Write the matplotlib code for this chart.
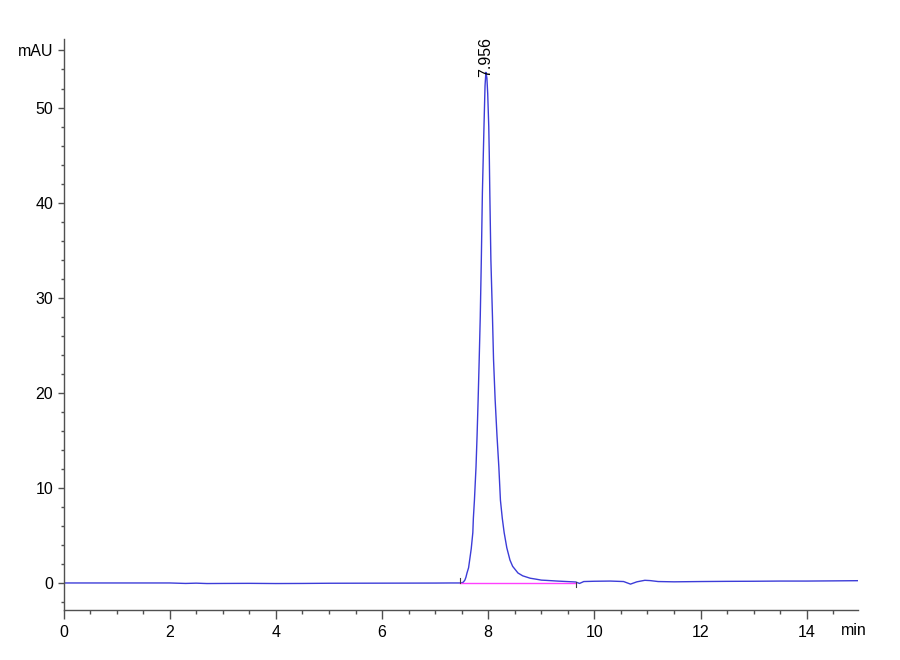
import matplotlib
matplotlib.use("Agg")
import matplotlib.pyplot as plt

# chromatogram trace (time in min, signal in mAU)
time_min = [0.0, 1.0, 2.0, 2.3, 2.5, 2.7, 3.0, 3.5, 4.0, 4.5, 5.0, 6.0, 7.0, 7.3,
            7.47, 7.50, 7.53, 7.56, 7.58, 7.60, 7.63, 7.65, 7.68, 7.71, 7.72, 7.74,
            7.77, 7.79, 7.81, 7.83, 7.85, 7.87, 7.89, 7.92, 7.94, 7.956, 7.975,
            7.99, 8.01, 8.02, 8.03, 8.05, 8.08, 8.10, 8.13, 8.165, 8.20, 8.23, 8.265,
            8.30, 8.35, 8.41, 8.46, 8.56, 8.65, 8.79, 8.9, 9.0, 9.1, 9.3, 9.48,
            9.65, 9.72, 9.80, 10.0, 10.3, 10.55, 10.68, 10.8, 10.95, 11.05, 11.2,
            11.5, 12.0, 12.5, 13.0, 13.5, 14.0, 14.5, 14.96]
signal_mau = [0.0, 0.0, 0.0, -0.05, -0.02, -0.06, -0.05, -0.04, -0.06, -0.05, -0.03,
              -0.02, -0.01, 0.0,
              0.0, 0.02, 0.08, 0.3, 0.6, 1.05, 1.6, 2.4, 3.6, 5.3, 6.8, 8.7,
              12.2, 15.5, 19.3, 23.5, 28.0, 34.0, 41.0, 48.0, 52.3, 53.7, 53.1,
              51.5, 48.0, 45.0, 41.0, 34.0, 28.0, 23.5, 19.3, 15.5, 12.2, 8.7, 6.8,
              5.3, 3.7, 2.4, 1.75, 1.05, 0.75, 0.5, 0.4, 0.3, 0.27, 0.2, 0.15,
              0.1, -0.05, 0.15, 0.18, 0.2, 0.15, -0.12, 0.12, 0.28, 0.25, 0.15,
              0.12, 0.15, 0.17, 0.18, 0.2, 0.2, 0.22, 0.24]

peak_rt = 7.956
peak_top = 53.7
base_start, base_end = 7.47, 9.65

x_ticks = [0, 2, 4, 6, 8, 10, 12, 14]
y_ticks = [0, 10, 20, 30, 40, 50]

plt.rcParams["font.family"] = ["Liberation Sans", "DejaVu Sans"]

fig = plt.figure(figsize=(9, 6.6), dpi=100)
ax = fig.add_axes([0.0706, 0.0758, 0.8824, 0.865])

ax.plot(time_min, signal_mau, color="#3c3cd8", lw=1.0)
# integration baseline + start/stop markers
ax.plot([base_start, base_end], [0, 0], color="#ff40ff", lw=1.0)
ax.plot([base_start, base_start], [0.03, 0.56], color="#404040", lw=0.8)
ax.plot([base_end, base_end], [0.14, -0.39], color="#404040", lw=0.8)

ax.text(peak_rt, peak_top - 0.5, f"{peak_rt:.3f}", rotation=90, ha="center",
        va="bottom", fontsize=11.5, color="black")

ax.set_xlim(0, 14.96)
ax.set_ylim(-2.84, 57.2)
ax.set_xticks(x_ticks)
ax.set_xticklabels([str(v) for v in x_ticks])
ax.set_xticks([v * 0.5 for v in range(30)], minor=True)
ax.set_yticks(y_ticks + [56])
ax.set_yticklabels([str(v) for v in y_ticks] + ["mAU"])
ax.set_yticks([v for v in range(-2, 57, 2)], minor=True)

for s in ["top", "right"]:
    ax.spines[s].set_visible(False)
for s in ["left", "bottom"]:
    ax.spines[s].set_color("#505050")
    ax.spines[s].set_linewidth(1.0)

ax.tick_params(axis="x", which="major", length=6.5, width=1, color="#505050",
               labelsize=11.5, pad=4)
ax.tick_params(axis="x", which="minor", length=3, width=1, color="#505050")
ax.tick_params(axis="y", which="major", length=4.5, width=1, color="#505050",
               labelsize=11.5, pad=3)
ax.tick_params(axis="y", which="minor", length=2.2, width=1, color="#505050")

ax.text(14.64, -4.2, "min", ha="left", va="top", fontsize=11.5, clip_on=False)

fig.savefig("out.png", dpi=100)
